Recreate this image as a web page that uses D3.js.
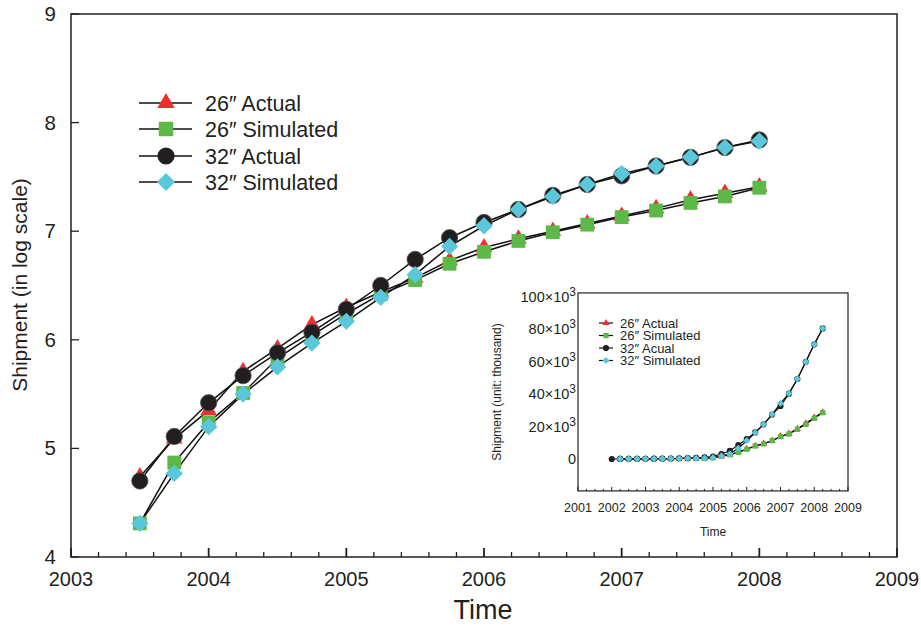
<!DOCTYPE html>
<html lang="en">
<head>
<meta charset="UTF-8">
<title>Shipment</title>
<script src="https://d3js.org/d3.v7.min.js"></script>
<style>
  body { margin: 0; background: #fff; }
  text { font-family: "Liberation Sans", Arial, sans-serif; fill: #231f20; }
  .axis-line { fill: none; stroke: #231f20; stroke-width: 1.5px; }
  .series-line { fill: none; stroke: #111; stroke-width: 1.5px; }
</style>
</head>
<body>
<div id="chart"></div>
<script>
// main chart data (log scale)
const mainTime = [2003.5, 2003.75, 2004, 2004.25, 2004.5, 2004.75, 2005, 2005.25, 2005.5, 2005.75,
                  2006, 2006.25, 2006.5, 2006.75, 2007, 2007.25, 2007.5, 2007.75, 2008];
const act26 = [4.74, 5.09, 5.35, 5.71, 5.92, 6.14, 6.30, 6.44, 6.57, 6.73, 6.85, 6.93, 7.00, 7.07, 7.14, 7.21, 7.29, 7.35, 7.41];
const sim26 = [4.31, 4.87, 5.24, 5.51, 5.83, 6.04, 6.24, 6.42, 6.55, 6.70, 6.81, 6.91, 6.99, 7.06, 7.13, 7.19, 7.26, 7.32, 7.40];
const act32 = [4.70, 5.11, 5.42, 5.67, 5.88, 6.07, 6.28, 6.50, 6.74, 6.94, 7.08, 7.20, 7.33, 7.43, 7.51, 7.60, 7.68, 7.77, 7.84];
const sim32 = [4.31, 4.77, 5.20, 5.50, 5.75, 5.97, 6.17, 6.39, 6.60, 6.86, 7.05, 7.20, 7.32, 7.43, 7.53, 7.60, 7.68, 7.77, 7.83];
const xTicks = [2003, 2004, 2005, 2006, 2007, 2008, 2009];
const yTicks = [4, 5, 6, 7, 8, 9];

// inset data (thousand units)
const insetTime = [2002, 2002.25, 2002.5, 2002.75, 2003, 2003.25, 2003.5, 2003.75, 2004, 2004.25, 2004.5, 2004.75,
                   2005, 2005.25, 2005.5, 2005.75, 2006, 2006.25, 2006.5, 2006.75, 2007, 2007.25, 2007.5, 2007.75, 2008, 2008.25];
const inAct26 = [null, 0.05, 0.08, 0.1, 0.12, 0.15, 0.2, 0.25, 0.3, 0.35, 0.4, 0.5, 0.9, 1.7, 2.7, 4.3, 6.2, 8.1, 9.5, 11.3, 13.9, 15.7, 18.6, 22.0, 25.6, 28.8];
const inSim26 = [null, 0.05, 0.08, 0.1, 0.12, 0.15, 0.2, 0.25, 0.3, 0.35, 0.4, 0.45, 0.8, 1.6, 2.6, 4.1, 6.0, 8.0, 9.3, 11.3, 13.8, 15.4, 18.3, 21.4, 25.1, 28.6];
const inAct32 = [0, 0.05, 0.08, 0.1, 0.15, 0.2, 0.25, 0.3, 0.4, 0.5, 0.7, 1.0, 1.5, 3.1, 5.1, 8.6, 12.3, 16.4, 21.4, 27.4, 32.7, 40.3, 49.4, 60.0, 70.8, 80.6];
const inSim32 = [null, 0.05, 0.08, 0.1, 0.12, 0.15, 0.2, 0.25, 0.3, 0.35, 0.4, 0.5, 0.8, 1.9, 3.1, 6.6, 11.3, 16.2, 21.4, 27.6, 34.4, 40.5, 49.4, 60.0, 70.8, 80.6];
const inXTicks = [2001, 2002, 2003, 2004, 2005, 2006, 2007, 2008, 2009];
const inYTicks = [0, 20, 40, 60, 80, 100];

const legendMain = ['26\u2033 Actual', '26\u2033 Simulated', '32\u2033 Actual', '32\u2033 Simulated'];
const legendInset = ['26\u2033 Actual', '26\u2033 Simulated', '32\u2033 Acual', '32\u2033 Simulated'];

const colors = ['#ee2f2f', '#5cb947', '#231f20', '#5bc7da'];
const symbols = [d3.symbolTriangle, d3.symbolSquare, d3.symbolCircle, d3.symbolSquare];
const rot = [0, 0, 0, 45];

const width = 921, height = 627;
const svg = d3.select('#chart').append('svg')
  .attr('width', width).attr('height', height);

// ---------- main plot ----------
const x = d3.scaleLinear().domain([2003, 2009]).range([71, 897]);
const y = d3.scaleLinear().domain([4, 9]).range([557, 14]);

svg.append('rect').attr('class', 'axis-line')
  .attr('x', x(2003)).attr('y', y(9))
  .attr('width', x(2009) - x(2003)).attr('height', y(4) - y(9));

// x ticks, major inward, minor every 0.2
const minorX = d3.range(2003, 2009.001, 0.2).filter(v => Math.abs(v - Math.round(v)) > 0.01);
svg.append('g').selectAll('line').data(minorX).join('line')
  .attr('x1', d => x(d)).attr('x2', d => x(d))
  .attr('y1', y(4)).attr('y2', y(4) - 5)
  .attr('stroke', '#231f20').attr('stroke-width', 1.3);
svg.append('g').selectAll('line').data(xTicks).join('line')
  .attr('x1', d => x(d)).attr('x2', d => x(d))
  .attr('y1', y(4)).attr('y2', y(4) - 9)
  .attr('stroke', '#231f20').attr('stroke-width', 1.8);
svg.append('g').selectAll('text').data(xTicks).join('text')
  .attr('x', d => x(d)).attr('y', 586)
  .attr('text-anchor', 'middle').attr('font-size', 20)
  .text(d => d);

svg.append('g').selectAll('line').data(yTicks).join('line')
  .attr('x1', x(2003)).attr('x2', x(2003) + 8)
  .attr('y1', d => y(d)).attr('y2', d => y(d))
  .attr('stroke', '#231f20').attr('stroke-width', 1.3);
svg.append('g').selectAll('text').data(yTicks).join('text')
  .attr('x', 56).attr('y', d => y(d) + 7)
  .attr('text-anchor', 'end').attr('font-size', 20.5)
  .text(d => d);

svg.append('text').attr('x', 483).attr('y', 619)
  .attr('text-anchor', 'middle').attr('font-size', 27).text('Time');
svg.append('text')
  .attr('transform', 'translate(27,285) rotate(-90)')
  .attr('text-anchor', 'middle').attr('font-size', 21)
  .text('Shipment (in log scale)');

const mainSeries = [act26, sim26, act32, sim32];
const mainSizes = [120, 190, 210, 150];
const line = d3.line().defined(d => d[1] != null).x(d => x(d[0])).y(d => y(d[1]));

mainSeries.forEach(s => {
  svg.append('path').attr('class', 'series-line')
    .attr('d', line(mainTime.map((t, i) => [t, s[i]])));
});
mainSeries.forEach((s, k) => {
  svg.append('g').selectAll('path').data(mainTime.map((t, i) => [t, s[i]])).join('path')
    .attr('transform', d => `translate(${x(d[0])},${y(d[1])}) rotate(${rot[k]})`)
    .attr('d', d3.symbol().type(symbols[k]).size(mainSizes[k]))
    .attr('fill', colors[k])
    .attr('stroke', k === 2 ? '#555' : 'none')
    .attr('stroke-width', 0.8);
});

// main legend
const lg = svg.append('g');
legendMain.forEach((name, k) => {
  const ly = [103, 129, 156, 182][k];
  lg.append('line').attr('x1', 139).attr('x2', 192).attr('y1', ly).attr('y2', ly)
    .attr('stroke', '#111').attr('stroke-width', 1.5);
  lg.append('path')
    .attr('transform', `translate(166,${ly}) rotate(${rot[k]})`)
    .attr('d', d3.symbol().type(symbols[k]).size(mainSizes[k] * 1.1))
    .attr('fill', colors[k]);
  lg.append('text').attr('x', 205).attr('y', ly + 7.5)
    .attr('font-size', 21.5).text(name);
});

// ---------- inset ----------
const ix = d3.scaleLinear().domain([2001, 2009]).range([578, 848]);
const iy = d3.scaleLinear().domain([0, 100]).range([459, 297]);
const ig = svg.append('g');

ig.append('rect').attr('fill', '#fff').attr('stroke', '#231f20').attr('stroke-width', 1.2)
  .attr('x', ix(2001)).attr('y', iy(102.5))
  .attr('width', ix(2009) - ix(2001)).attr('height', iy(-19.7) - iy(102.5));

const iMinor = d3.range(2001, 2009.001, 0.25);
ig.append('g').selectAll('line').data(iMinor).join('line')
  .attr('x1', d => ix(d)).attr('x2', d => ix(d))
  .attr('y1', iy(-19.7)).attr('y2', d => iy(-19.7) - (Math.abs(d - Math.round(d)) < 0.01 ? 4 : 2))
  .attr('stroke', '#231f20').attr('stroke-width', 1);
ig.append('g').selectAll('text').data(inXTicks).join('text')
  .attr('x', d => ix(d)).attr('y', 512)
  .attr('text-anchor', 'middle').attr('font-size', 12.5)
  .text(d => d);

const yl = ig.append('g').selectAll('text').data(inYTicks).join('text')
  .attr('x', 576).attr('y', d => iy(d) + 5)
  .attr('text-anchor', 'end').attr('font-size', 14.5);
yl.each(function(d) {
  const t = d3.select(this);
  if (d === 0) { t.text('0'); return; }
  t.append('tspan').text(d + '\u00d710');
  t.append('tspan').attr('dy', -6).attr('font-size', 12).text('3');
});

ig.append('text').attr('x', 713).attr('y', 536)
  .attr('text-anchor', 'middle').attr('font-size', 12).text('Time');
ig.append('text')
  .attr('transform', 'translate(501,392) rotate(-90)')
  .attr('text-anchor', 'middle').attr('font-size', 12)
  .text('Shipment (unit: thousand)');

const insetSeries = [inAct26, inSim26, inAct32, inSim32];
const inSizes = [22, 28, 30, 26];
const iline = d3.line().defined(d => d[1] != null).x(d => ix(d[0])).y(d => iy(d[1]));
insetSeries.forEach(s => {
  ig.append('path').attr('fill', 'none').attr('stroke', '#111').attr('stroke-width', 1.2)
    .attr('d', iline(insetTime.map((t, i) => [t, s[i]])));
});
insetSeries.forEach((s, k) => {
  ig.append('g').selectAll('path')
    .data(insetTime.map((t, i) => [t, s[i]]).filter(d => d[1] != null)).join('path')
    .attr('transform', d => `translate(${ix(d[0])},${iy(d[1])}) rotate(${rot[k]})`)
    .attr('d', d3.symbol().type(symbols[k]).size(inSizes[k]))
    .attr('fill', colors[k]);
});

legendInset.forEach((name, k) => {
  const ly = [323, 335.5, 348, 360.5][k];
  ig.append('line').attr('x1', 599).attr('x2', 613).attr('y1', ly).attr('y2', ly)
    .attr('stroke', '#111').attr('stroke-width', 1.2);
  ig.append('path')
    .attr('transform', `translate(606,${ly}) rotate(${rot[k]})`)
    .attr('d', d3.symbol().type(symbols[k]).size(inSizes[k]))
    .attr('fill', colors[k]);
  ig.append('text').attr('x', 620).attr('y', ly + 4.5)
    .attr('font-size', 13).text(name);
});
</script>
</body>
</html>
